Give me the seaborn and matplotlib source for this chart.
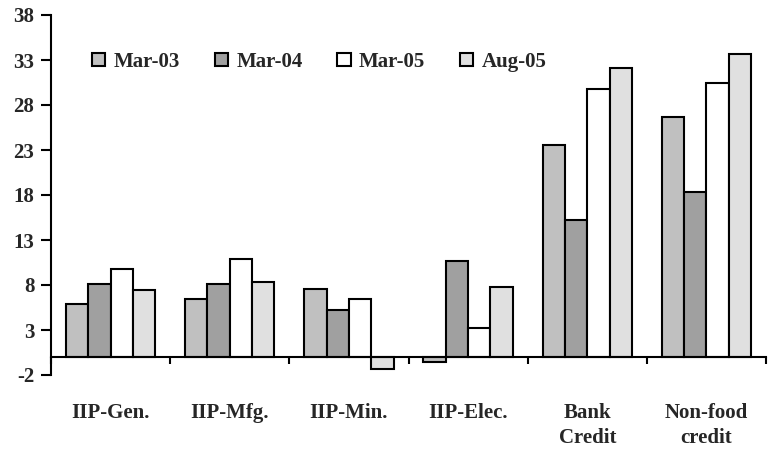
import matplotlib
matplotlib.use("Agg")
import matplotlib.pyplot as plt
import seaborn as sns
import pandas as pd
import numpy as np

categories = ["IIP-Gen.", "IIP-Mfg.", "IIP-Min.", "IIP-Elec.", "Bank\nCredit", "Non-food\ncredit"]
series = ["Mar-03", "Mar-04", "Mar-05", "Aug-05"]
mar03 = [5.9, 6.5, 7.6, -0.6, 23.6, 26.7]
mar04 = [8.1, 8.1, 5.2, 10.7, 15.2, 18.3]
mar05 = [9.8, 10.9, 6.5, 3.2, 29.8, 30.5]
aug05 = [7.4, 8.3, -1.3, 7.8, 32.1, 33.7]
colors = ["#c0c0c0", "#a0a0a0", "#ffffff", "#e0e0e0"]
yticks = [-2, 3, 8, 13, 18, 23, 28, 33, 38]

rows = []
for name, vals in zip(series, [mar03, mar04, mar05, aug05]):
    for cat, v in zip(categories, vals):
        rows.append({"category": cat, "series": name, "value": v})
df = pd.DataFrame(rows)

sns.set_style("white")
plt.rcParams["font.family"] = ["Liberation Serif", "DejaVu Serif"]
plt.rcParams["font.weight"] = "bold"

fig = plt.figure(figsize=(7.74, 4.5), dpi=100)
ax = fig.add_axes([51 / 774, 75 / 450, 715 / 774, 360 / 450])

sns.barplot(data=df, x="category", y="value", hue="series", order=categories,
            hue_order=series, palette=colors, width=0.75, edgecolor="black",
            linewidth=1.5, saturation=1, ax=ax, legend=True)

ax.set_ylim(-2, 38)
ax.set_xlim(-0.5, len(categories) - 0.5)
ax.set_yticks(yticks)
ax.set_yticklabels([str(t) for t in yticks], fontsize=15, fontweight="bold")
ax.set_xlabel("")
ax.set_ylabel("")

for s in ["top", "right"]:
    ax.spines[s].set_visible(False)
ax.spines["left"].set_linewidth(1.5)
ax.spines["left"].set_color("black")
ax.spines["bottom"].set_position(("data", 0))
ax.spines["bottom"].set_linewidth(1.5)
ax.spines["bottom"].set_color("black")

ax.tick_params(axis="y", left=True, direction="out", length=7, width=1.5,
               color="black", pad=5)
ax.set_xticks(range(len(categories)))
ax.set_xticklabels(categories, fontsize=15, fontweight="bold", linespacing=1.35)
ax.tick_params(axis="x", which="major", bottom=True, length=0, pad=33)
ax.set_xticks(np.arange(-0.5, len(categories), 1.0), minor=True)
ax.tick_params(axis="x", which="minor", bottom=True, direction="out", length=5,
               width=1.5, color="black")

handles, labels = ax.get_legend_handles_labels()
ax.legend(handles, labels, loc="center", bbox_to_anchor=(0.375, 0.87), ncol=4,
          frameon=False, handlelength=0.65, handleheight=0.65,
          handletextpad=0.4, columnspacing=1.65, prop={"weight": "bold", "size": 15})

fig.savefig("out.png", dpi=100)
